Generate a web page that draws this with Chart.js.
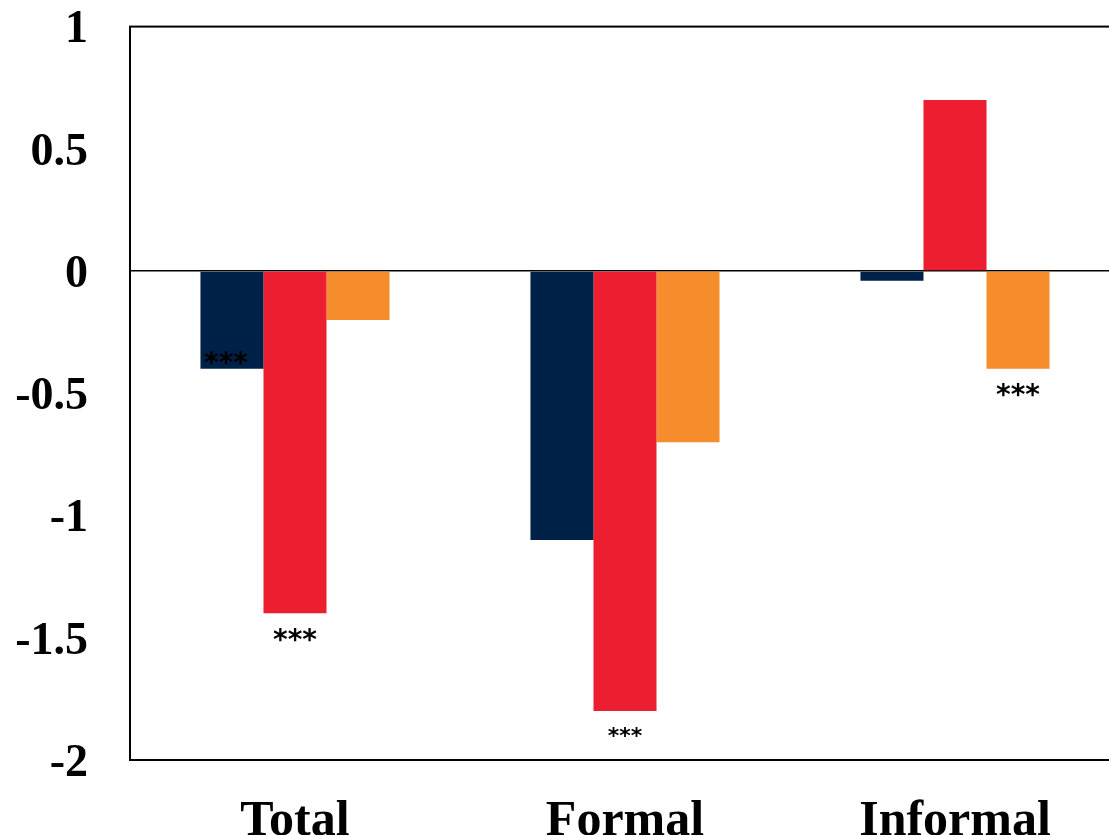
<!DOCTYPE html>
<html>
<head>
<meta charset="utf-8">
<script src="https://cdn.jsdelivr.net/npm/chart.js@4"></script>
<style>
    html, body { margin: 0; padding: 0; overflow: hidden; background: #fff; }
    #wrap { width: 1124px; height: 923px; margin-top: -43px; }
</style>
</head>
<body>
<div id="wrap"><canvas id="chart" width="1124" height="923"></canvas></div>
<script>
const categories = ["Total", "Formal", "Informal"];
const seriesNames = ["Series 1", "Series 2", "Series 3"];
const series1 = [-0.40, -1.10, -0.04];
const series2 = [-1.40, -1.80, 0.70];
const series3 = [-0.20, -0.70, -0.40];
const colors = ["#002147", "#EC1E2F", "#F68D2C"];
// significance marks per series, per category
const stars = [
    ["***", "", ""],
    ["***", "***", ""],
    ["", "", "***"]
];
const yTicks = [1, 0.5, 0, -0.5, -1, -1.5, -2];

const frame = {
    id: "frame",
    afterDatasetsDraw(chart) {
        const a = chart.chartArea;
        const c = chart.ctx;
        c.save();
        c.strokeStyle = "#000";
        c.lineWidth = 2;
        c.strokeRect(a.left, a.top, a.right - a.left, a.bottom - a.top);
        c.restore();
    }
};

const starMarks = {
    id: "starMarks",
    afterDatasetsDraw(chart) {
        const c = chart.ctx;
        c.save();
        c.fillStyle = "#000";
        c.textAlign = "center";
        c.textBaseline = "middle";
        stars.forEach((row, di) => {
            const meta = chart.getDatasetMeta(di);
            row.forEach((txt, i) => {
                if (!txt) return;
                const bar = meta.data[i];
                // first mark sits inside the bar end, the rest below it
                const inside = di === 0 && i === 0;
                const small = di === 1 && i === 1;
                c.font = "bold " + (small ? 22 : 28) + "px 'DejaVu Sans'";
                let y = inside ? bar.y - 4 : bar.y + (small ? 26 : 28);
                c.fillText(txt, bar.x - (inside ? 6 : 0), y);
            });
        });
        c.restore();
    }
};

new Chart(document.getElementById("chart"), {
    type: "bar",
    data: {
        labels: categories,
        datasets: [series1, series2, series3].map((d, i) => ({
            label: seriesNames[i],
            data: d,
            backgroundColor: colors[i],
            borderWidth: 0,
            categoryPercentage: 0.573,
            barPercentage: 1
        }))
    },
    options: {
        responsive: false,
        animation: false,
        layout: { padding: { top: 27, right: 4, left: 0, bottom: 0 } },
        plugins: { legend: { display: false }, tooltip: { enabled: false } },
        scales: {
            x: {
                grid: { display: false, drawTicks: false },
                border: { display: false },
                ticks: {
                    color: "#000",
                    padding: 32,
                    font: { family: "'Liberation Serif'", size: 50, weight: "bold" }
                },
                afterFit(s) { s.height = 120; }
            },
            y: {
                min: -2,
                max: 1,
                afterBuildTicks(s) { s.ticks = yTicks.map(v => ({ value: v })); },
                grid: {
                    drawTicks: false,
                    color: ctx => ctx.tick && ctx.tick.value === 0 ? "#000" : "rgba(0,0,0,0)",
                    lineWidth: 1.5
                },
                border: { display: false },
                ticks: {
                    color: "#000",
                    padding: 42,
                    labelOffset: 4,
                    font: { family: "'Liberation Serif'", size: 46, weight: "bold" },
                    callback: v => String(v)
                },
                afterFit(s) { s.width = 130; }
            }
        }
    },
    plugins: [frame, starMarks]
});
</script>
</body>
</html>
